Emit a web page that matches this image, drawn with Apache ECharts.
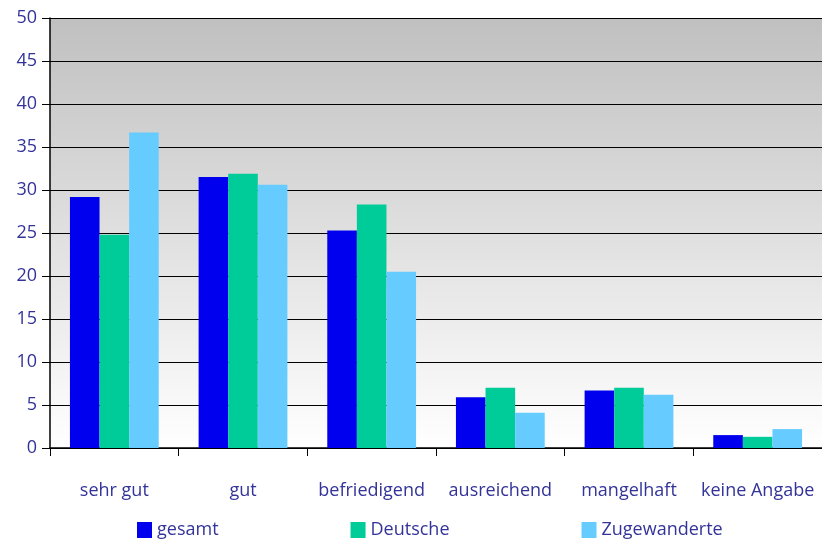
<!DOCTYPE html>
<html>
<head>
<meta charset="utf-8">
<script src="https://cdn.jsdelivr.net/npm/echarts@6/dist/echarts.min.js"></script>
<style>
  html, body { margin: 0; padding: 0; background: #fff; }
  #chart { width: 822px; height: 542px; }
</style>
</head>
<body>
<div id="chart"></div>
<script>
// categories and values
const categories = ['sehr gut', 'gut', 'befriedigend', 'ausreichend', 'mangelhaft', 'keine Angabe'];
const gesamt = [29.2, 31.5, 25.3, 5.9, 6.7, 1.5];
const deutsche = [24.8, 31.9, 28.3, 7.0, 7.0, 1.3];
const zugewanderte = [36.7, 30.6, 20.5, 4.1, 6.2, 2.2];

const textColor = '#333399';
const fontFamily = '"Open Sans", "Noto Sans", sans-serif';

const chart = echarts.init(document.getElementById('chart'));

const option = {
  animation: false,
  textStyle: { fontFamily: fontFamily, color: textColor },
  grid: {
    left: 50,
    right: 0,
    top: 18,
    bottom: 94,
    show: true,
    borderWidth: 0,
    backgroundColor: new echarts.graphic.LinearGradient(0, 0, 0, 1, [
      { offset: 0, color: '#c0c0c0' },
      { offset: 1, color: '#ffffff' }
    ])
  },
  legend: {
    top: 516,
    left: 132,
    itemWidth: 15,
    itemHeight: 16,
    itemGap: 132,
    icon: 'rect',
    textStyle: { color: textColor, fontSize: 18, fontFamily: fontFamily },
    data: ['gesamt', 'Deutsche', 'Zugewanderte']
  },
  xAxis: {
    type: 'category',
    data: categories,
    axisLine: { lineStyle: { color: '#000', width: 1.5 } },
    axisTick: { show: true, length: 8, interval: 0, lineStyle: { color: '#000' } },
    axisLabel: { color: textColor, fontSize: 18, margin: 34, interval: 0, fontFamily: fontFamily }
  },
  yAxis: {
    type: 'value',
    min: 0,
    max: 50,
    interval: 5,
    axisLine: { show: true, lineStyle: { color: '#000', width: 1.5 } },
    axisTick: { show: true, length: 8, lineStyle: { color: '#000' } },
    axisLabel: { color: textColor, fontSize: 18, margin: 13, fontFamily: fontFamily },
    splitLine: { lineStyle: { color: '#000', width: 1 } }
  },
  series: [
    {
      name: 'gesamt',
      type: 'bar',
      data: gesamt,
      barGap: '0%',
      barCategoryGap: '31%',
      itemStyle: { color: '#0000ee' }
    },
    {
      name: 'Deutsche',
      type: 'bar',
      data: deutsche,
      itemStyle: { color: '#00cc99' }
    },
    {
      name: 'Zugewanderte',
      type: 'bar',
      data: zugewanderte,
      itemStyle: { color: '#66ccff' }
    }
  ]
};

chart.setOption(option);
</script>
</body>
</html>
